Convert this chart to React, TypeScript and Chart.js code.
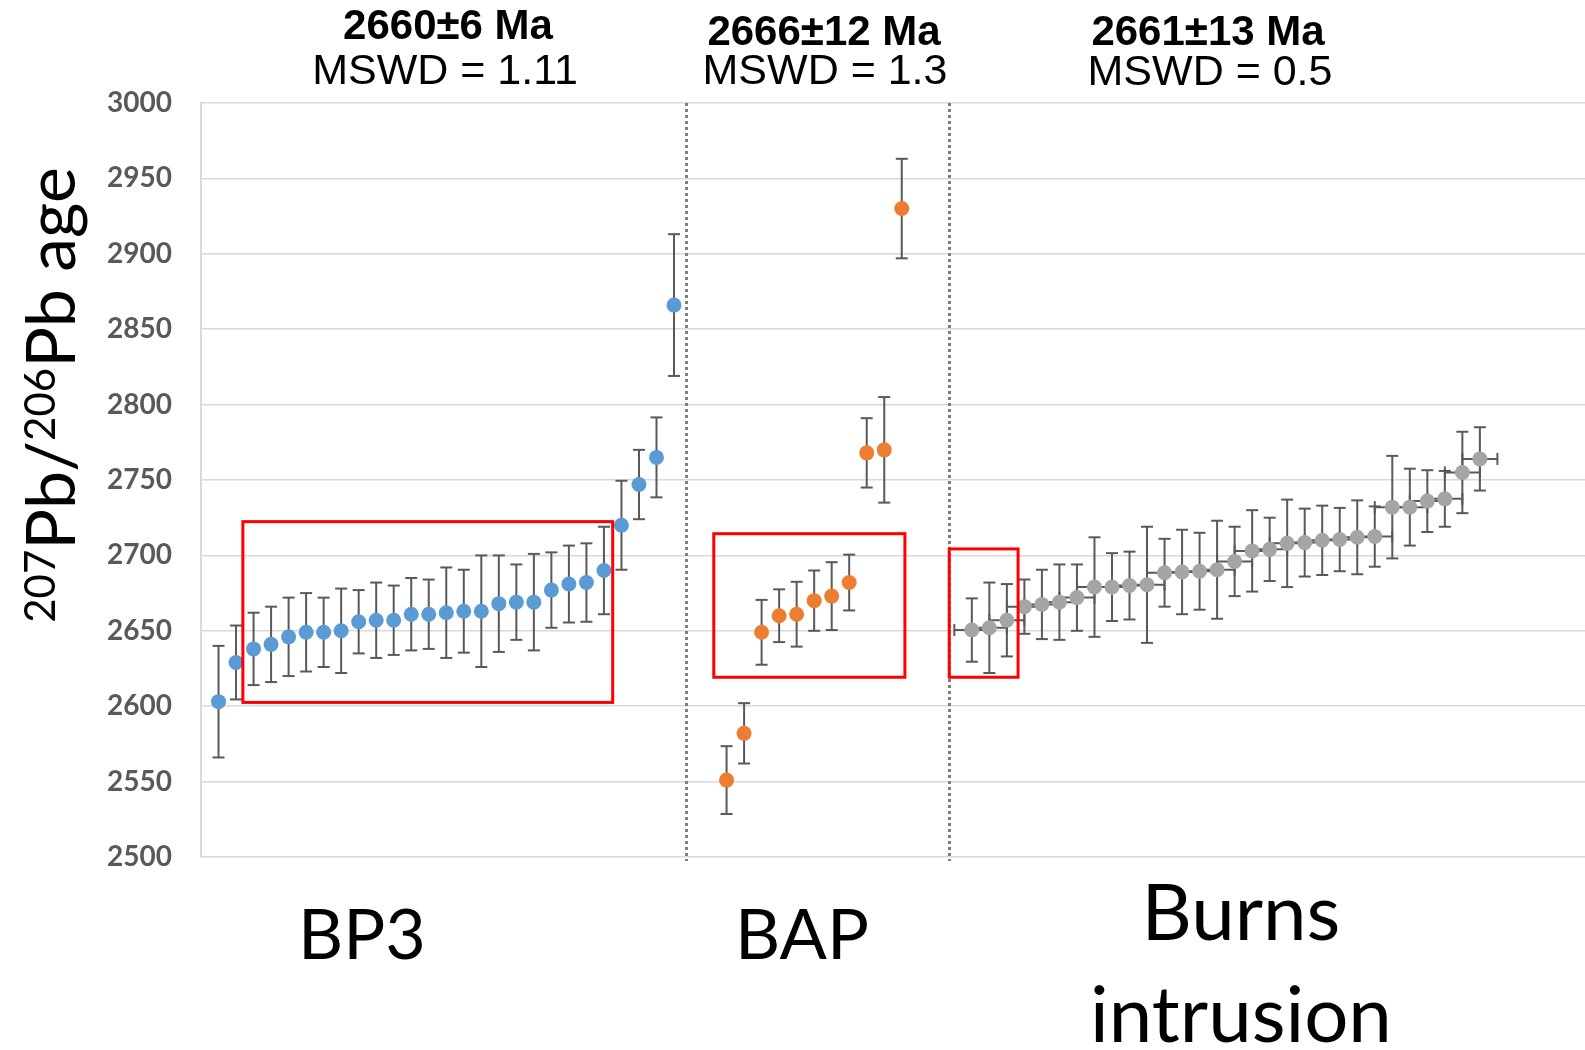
import React, { useEffect, useRef } from "react";
import { Chart, registerables } from "chart.js";

Chart.register(...registerables);

// ---- Data (207Pb/206Pb ages, Ma, with 2-sigma errors) ----
const bp3Start = 1;
const bp3Ages = [2603, 2629, 2638, 2641, 2646, 2649, 2649, 2650, 2656, 2657, 2657, 2661, 2661, 2662, 2663, 2663, 2668, 2669, 2669, 2677, 2681, 2682, 2690, 2720, 2747, 2765, 2866];
const bp3Errors = [37, 24.5, 24, 25, 26, 26, 23, 28, 21, 25, 23, 24, 23, 30, 27.5, 37, 32, 25, 32, 25, 25.5, 26, 29, 29.5, 23, 26.5, 47];

const bapStart = 30;
const bapAges = [2551, 2582, 2649, 2660, 2661, 2670, 2673, 2682, 2768, 2770, 2930];
const bapErrors = [22.5, 20, 21.5, 17.5, 21.5, 20, 22.5, 18.5, 23, 35, 33];

const burnsStart = 44;
const burnsAges = [2650.5, 2652, 2657, 2666, 2667.5, 2669, 2672, 2679, 2679, 2680, 2680.5, 2688.5, 2689, 2689.5, 2690.5, 2696, 2703, 2704, 2708, 2708.5, 2710, 2710.5, 2712, 2712.5, 2732, 2732, 2736, 2737.5, 2755, 2764];
const burnsErrors = [21, 30, 24, 18, 23, 25, 22, 33, 22.5, 22.5, 38.5, 22.5, 28, 25.5, 32.5, 23, 27, 21, 29, 22.5, 23, 21, 24.5, 20, 34, 25.5, 20.5, 18.5, 27, 21];
const burnsXError = 1;

const yTicks = [2500, 2550, 2600, 2650, 2700, 2750, 2800, 2850, 2900, 2950, 3000];

const groupAges = ["2660±6 Ma", "2666±12 Ma", "2661±13 Ma"];
const groupMswd = ["MSWD = 1.11", "MSWD = 1.3", "MSWD = 0.5"];
const groupNames = ["BP3", "BAP", "Burns\nintrusion"];

// annotation lines / boxes in data units
const dividerX = [27.7, 42.7];
const boxX0 = [2.39, 29.27, 42.71];
const boxX1 = [23.5, 40.18, 46.64];
const boxYLow = [2602.5, 2619.2, 2619.2];
const boxYHigh = [2722.4, 2714.4, 2704.3];

function toPoints(start: number, ages: number[], errs: number[], xErr = 0) {
  return ages.map((a, i) => ({ x: start + i, y: a, yErr: errs[i], xErr }));
}

const annotationsPlugin = {
  id: "annotations",
  beforeDatasetsDraw(chart: any) {
    const { ctx, scales, chartArea } = chart;
    const x = scales.x;
    const y = scales.y;
    ctx.save();
    // dotted dividers
    ctx.strokeStyle = "#7f7f7f";
    ctx.lineWidth = 3;
    ctx.setLineDash([3, 3]);
    dividerX.forEach((d) => {
      const px = Math.round(x.getPixelForValue(d)) + 0.5;
      ctx.beginPath();
      ctx.moveTo(px, chartArea.top);
      ctx.lineTo(px, chartArea.bottom + 4);
      ctx.stroke();
    });
    ctx.setLineDash([]);
    // error bars
    ctx.strokeStyle = "#595959";
    ctx.lineWidth = 2;
    const cap = 6;
    const seg = (x0: number, y0: number, x1: number, y1: number) => {
      ctx.beginPath();
      ctx.moveTo(x0, y0);
      ctx.lineTo(x1, y1);
      ctx.stroke();
    };
    chart.data.datasets.forEach((ds: any) => {
      ds.data.forEach((p: any) => {
        const px = x.getPixelForValue(p.x);
        const py = y.getPixelForValue(p.y);
        if (p.xErr) {
          const l = x.getPixelForValue(p.x - p.xErr);
          const r = x.getPixelForValue(p.x + p.xErr);
          seg(l, py, r, py);
          seg(l, py - cap, l, py + cap);
          seg(r, py - cap, r, py + cap);
        }
        const t = y.getPixelForValue(p.y + p.yErr);
        const b = y.getPixelForValue(p.y - p.yErr);
        seg(px, t, px, b);
        seg(px - cap, t, px + cap, t);
        seg(px - cap, b, px + cap, b);
      });
    });
    ctx.restore();
  },
  afterDatasetsDraw(chart: any) {
    const { ctx, scales } = chart;
    const x = scales.x;
    const y = scales.y;
    ctx.save();
    ctx.strokeStyle = "#ff0000";
    ctx.lineWidth = 3;
    boxX0.forEach((_, i) => {
      const l = x.getPixelForValue(boxX0[i]);
      const r = x.getPixelForValue(boxX1[i]);
      const t = y.getPixelForValue(boxYHigh[i]);
      const b = y.getPixelForValue(boxYLow[i]);
      ctx.strokeRect(l, t, r - l, b - t);
    });
    ctx.restore();
  },
  afterDraw(chart: any) {
    const { ctx } = chart;
    ctx.save();
    ctx.fillStyle = "#000000";
    ctx.textAlign = "center";
    ctx.textBaseline = "alphabetic";
    const titleX = [448, 824, 1208];
    const titleBase = [39, 45, 45];
    const mswdX = [445, 825, 1210];
    const mswdBase = [84, 84, 85];
    groupAges.forEach((t, i) => {
      ctx.font = 'bold 42px "Liberation Sans", Arial, sans-serif';
      ctx.fillText(t, titleX[i], titleBase[i]);
      ctx.font = '43px "Liberation Sans", Arial, sans-serif';
      ctx.fillText(groupMswd[i], mswdX[i], mswdBase[i]);
    });
    // group names
    const nameX = [362, 802, 1241];
    const nameBase = [959, 959, 940];
    const nameSize = [70, 70, 78];
    groupNames.forEach((n, i) => {
      ctx.font = nameSize[i] + 'px Lato, "Open Sans", sans-serif';
      n.split("\n").forEach((line, j) => {
        ctx.fillText(line, nameX[i], nameBase[i] + j * 102);
      });
    });
    // y-axis title with superscripts
    ctx.translate(75, 395);
    ctx.rotate(-Math.PI / 2);
    ctx.textAlign = "left";
    const parts = [
      { t: "207", s: true },
      { t: "Pb/", s: false },
      { t: "206", s: true },
      { t: "Pb age", s: false },
    ];
    const mainFont = '68px Lato, "Open Sans", sans-serif';
    const supFont = '42px Lato, "Open Sans", sans-serif';
    let total = 0;
    parts.forEach((p) => {
      ctx.font = p.s ? supFont : mainFont;
      total += ctx.measureText(p.t).width;
    });
    let cx = -total / 2;
    parts.forEach((p) => {
      ctx.font = p.s ? supFont : mainFont;
      ctx.fillText(p.t, cx, p.s ? -20 : 0);
      cx += ctx.measureText(p.t).width;
    });
    ctx.restore();
  },
};

export default function App() {
  const ref = useRef<HTMLCanvasElement>(null);
  useEffect(() => {
    document.body.style.margin = "0";
    const canvas = ref.current!;
    const chart = new Chart(canvas, {
      type: "scatter",
      data: {
        datasets: [
          {
            label: "BP3",
            data: toPoints(bp3Start, bp3Ages, bp3Errors) as any,
            backgroundColor: "#5b9bd5",
          },
          {
            label: "BAP",
            data: toPoints(bapStart, bapAges, bapErrors) as any,
            backgroundColor: "#ed7d31",
          },
          {
            label: "Burns intrusion",
            data: toPoints(burnsStart, burnsAges, burnsErrors, burnsXError) as any,
            backgroundColor: "#a5a5a5",
          },
        ],
      },
      options: {
        animation: false,
        responsive: false,
        devicePixelRatio: 1,
        layout: { autoPadding: false, padding: { top: 103, bottom: 193, left: 0, right: 0 } },
        elements: {
          point: { radius: 7.5, hoverRadius: 7.5, borderWidth: 0 },
        },
        plugins: {
          legend: { display: false },
          tooltip: { enabled: false },
        },
        scales: {
          x: {
            type: "linear",
            min: 0,
            max: 79,
            display: false,
          },
          y: {
            type: "linear",
            min: yTicks[0],
            max: yTicks[yTicks.length - 1],
            afterFit: (s: any) => {
              s.width = 201;
            },
            afterBuildTicks: (s: any) => {
              s.ticks = yTicks.map((v) => ({ value: v }));
            },
            grid: {
              color: "#d9d9d9",
              lineWidth: 1.5,
              drawTicks: false,
            },
            border: { display: true, color: "#d9d9d9", width: 2 },
            ticks: {
              padding: 29,
              color: "#595959",
              font: { family: "Lato, 'Open Sans', sans-serif", size: 28, weight: "bold" },
              callback: (v: any) => String(v),
            },
          },
        },
      },
      plugins: [annotationsPlugin],
    });
    return () => chart.destroy();
  }, []);
  return (
    <div style={{ position: "relative", width: 1585, height: 1050 }}>
      <canvas ref={ref} width={1585} height={1050} style={{ display: "block" }} />
    </div>
  );
}
